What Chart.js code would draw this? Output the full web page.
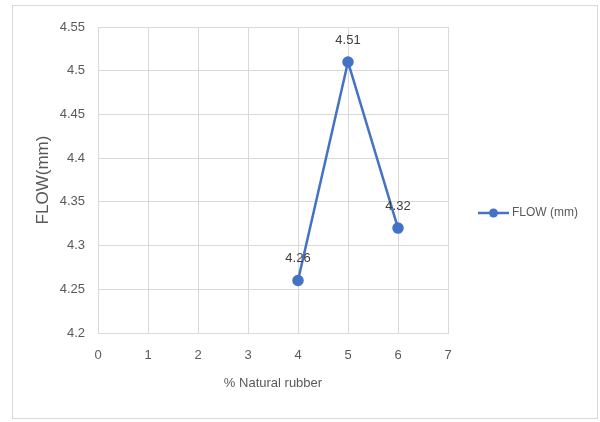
<!DOCTYPE html>
<html>
<head>
<meta charset="utf-8">
<script src="https://cdn.jsdelivr.net/npm/chart.js@4.4.0/dist/chart.umd.min.js"></script>
<style>
  html, body { margin: 0; padding: 0; background: #fff; }
  #wrap { width: 600px; height: 422px; }
</style>
</head>
<body>
<div id="wrap"><canvas id="flowChart" width="600" height="422"></canvas></div>
<script>
// values
const rubberPct = [4, 5, 6];
const flowMm = [4.26, 4.51, 4.32];
const seriesName = 'FLOW (mm)';
const xTicks = [0, 1, 2, 3, 4, 5, 6, 7];
const yTicks = [4.2, 4.25, 4.3, 4.35, 4.4, 4.45, 4.5, 4.55];

const blue = '#4472C4';
const grey = '#595959';
const fontFam = '"Liberation Sans", Arial, sans-serif';

// outer frame + white background
const framePlugin = {
    id: 'frame',
    beforeDraw(chart) {
        const ctx = chart.ctx;
        ctx.save();
        ctx.fillStyle = '#fff';
        ctx.fillRect(0, 0, chart.width, chart.height);
        ctx.strokeStyle = '#d9d9d9';
        ctx.lineWidth = 1;
        ctx.strokeRect(12.5, 5.5, 585, 413);
        ctx.restore();
    }
};

// value labels above points
const labelPlugin = {
    id: 'valueLabels',
    afterDatasetsDraw(chart) {
        const ctx = chart.ctx;
        const meta = chart.getDatasetMeta(0);
        ctx.save();
        ctx.font = '13px ' + fontFam;
        ctx.fillStyle = '#404040';
        ctx.textAlign = 'center';
        ctx.textBaseline = 'middle';
        meta.data.forEach((pt, i) => {
            ctx.fillText(flowMm[i].toFixed(2), pt.x, pt.y - 22);
        });
        ctx.restore();
    }
};

// legend on the right, Excel style (line through marker)
const legendPlugin = {
    id: 'sideLegend',
    afterDraw(chart) {
        const ctx = chart.ctx;
        const y = 213;
        ctx.save();
        ctx.strokeStyle = blue;
        ctx.lineWidth = 2.5;
        ctx.beginPath();
        ctx.moveTo(478, y);
        ctx.lineTo(509, y);
        ctx.stroke();
        ctx.fillStyle = blue;
        ctx.beginPath();
        ctx.arc(493.5, y, 4.5, 0, Math.PI * 2);
        ctx.fill();
        ctx.font = '12px ' + fontFam;
        ctx.fillStyle = grey;
        ctx.textBaseline = 'middle';
        ctx.fillText(seriesName, 512, y);
        ctx.restore();
    }
};

const ctx = document.getElementById('flowChart').getContext('2d');
new Chart(ctx, {
    type: 'line',
    data: {
        datasets: [{
            label: seriesName,
            data: rubberPct.map((x, i) => ({ x: x, y: flowMm[i] })),
            borderColor: blue,
            backgroundColor: blue,
            borderWidth: 2.5,
            pointRadius: 4.5,
            pointHoverRadius: 4.5,
            fill: false,
            tension: 0
        }]
    },
    options: {
        responsive: false,
        animation: false,
        layout: { padding: { left: 0, top: 27, right: 152, bottom: 0 } },
        plugins: {
            legend: { display: false },
            tooltip: { enabled: false }
        },
        scales: {
            x: {
                type: 'linear',
                min: 0,
                max: 7,
                afterBuildTicks(axis) { axis.ticks = xTicks.map(v => ({ value: v })); },
                afterFit(axis) { axis.height = 89; },
                grid: { color: '#d9d9d9', drawTicks: false },
                border: { color: '#d9d9d9' },
                ticks: { color: grey, padding: 15, font: { family: fontFam, size: 13 } },
                title: {
                    display: true,
                    text: '% Natural rubber',
                    color: grey,
                    font: { family: fontFam, size: 13 },
                    padding: { top: 0, bottom: 31 }
                }
            },
            y: {
                min: 4.2,
                max: 4.55,
                afterBuildTicks(axis) { axis.ticks = yTicks.map(v => ({ value: v })); },
                afterFit(axis) { axis.width = 98; },
                grid: { color: '#d9d9d9', drawTicks: false },
                border: { display: false },
                ticks: {
                    color: grey,
                    padding: 13,
                    font: { family: fontFam, size: 13 },
                    callback: v => String(parseFloat(v.toFixed(2)))
                },
                title: {
                    display: true,
                    text: 'FLOW(mm)',
                    color: grey,
                    font: { family: fontFam, size: 17 },
                    padding: { top: 33, bottom: 0 }
                }
            }
        }
    },
    plugins: [framePlugin, labelPlugin, legendPlugin]
});
</script>
</body>
</html>
